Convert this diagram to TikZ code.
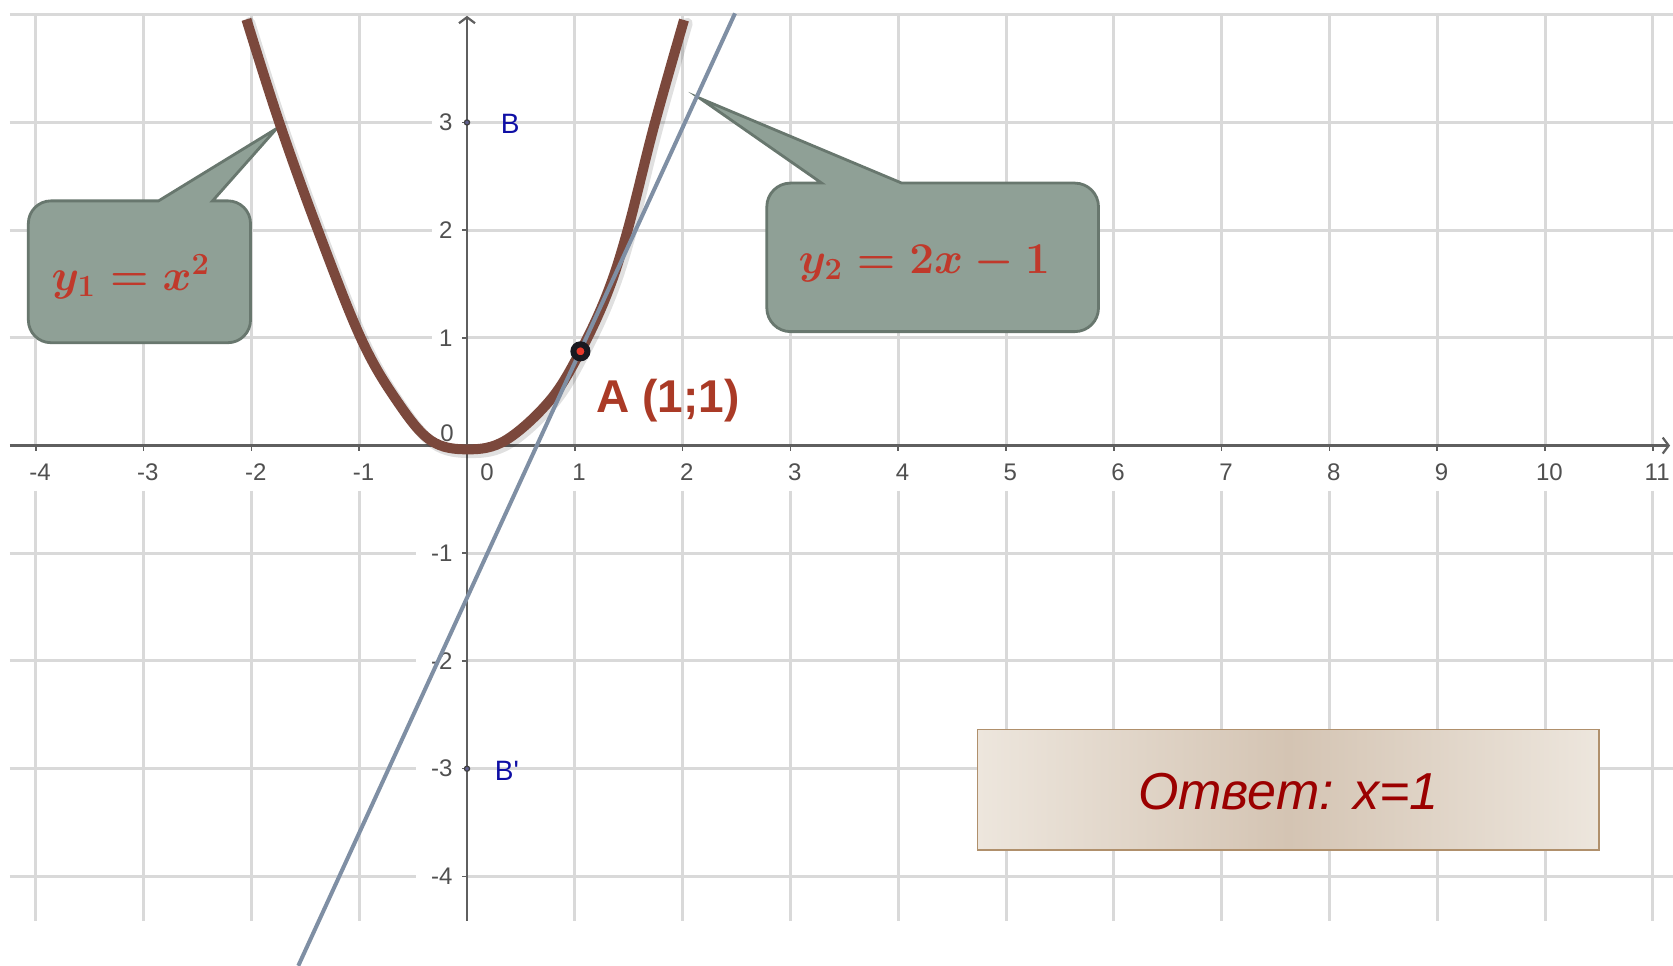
\RequirePackage{fix-cm}
\documentclass[tikz,border=0pt]{standalone}
\usepackage{fontspec}
\newfontfamily\arialf{Liberation Sans}
\usetikzlibrary{arrows.meta}
\definecolor{gridc}{RGB}{217,217,217}
\definecolor{axisc}{RGB}{95,95,95}
\definecolor{tickc}{RGB}{80,80,80}
\definecolor{curvec}{RGB}{123,72,60}
\definecolor{linec}{RGB}{127,143,164}
\definecolor{bubfill}{RGB}{143,160,150}
\definecolor{bubdraw}{RGB}{104,119,110}
\definecolor{mathred}{RGB}{192,57,43}
\definecolor{labred}{RGB}{170,58,38}
\definecolor{ansred}{RGB}{155,0,0}
\definecolor{ansedge}{RGB}{237,230,221}
\definecolor{ansmid}{RGB}{212,196,179}
\definecolor{ansdraw}{RGB}{176,144,108}
\definecolor{ptblue}{RGB}{15,15,165}
\definecolor{dotblack}{RGB}{25,25,32}
\definecolor{dotred}{RGB}{232,57,43}
\begin{document}
\begin{tikzpicture}[x=53.9pt,y=53.85pt,
  gridline/.style={gridc,line width=1.5pt},
  axisline/.style={axisc,line width=1.1pt},
  tickmark/.style={axisc,line width=0.8pt},
  ticklab/.style={font=\arialf\fontsize{12}{12}\selectfont,text=tickc,inner sep=0pt},
  ptlab/.style={font=\arialf\fontsize{14}{14}\selectfont,text=ptblue,inner sep=0pt},
  ptdot/.style={circle,draw=black!75,fill={rgb,255:red,95;green,95;blue,140},line width=0.6pt,minimum size=2.6pt,inner sep=0pt},
  bubble/.style={fill=bubfill,draw=bubdraw,line width=1.4pt,line join=miter},
  mathlab/.style={font=\fontsize{22}{26}\selectfont\boldmath,text=mathred,inner sep=0pt,anchor=base},
  barb/.style={-{Straight Barb[length=3pt,width=8pt]}}
]
\useasboundingbox (-4.332,-4.824) rectangle (11.187,4.137);
\fill[white] (-4.332,-4.824) rectangle (11.187,4.137);

% grid
\foreach \x in {-4,-3,-2,-1,1,2,3,4,5,6,7,8,9,10,11} {
  \draw[gridline] (\x,4) -- (\x,0);
  \draw[gridline] (\x,-0.42) -- (\x,-4.41);
}
\draw[gridline] (-4.24,4) -- (11.187,4);
\foreach \y in {1,2,3} {
  \draw[gridline] (-4.24,\y) -- (-0.325,\y);
  \draw[gridline] (0,\y) -- (11.187,\y);
}
\foreach \y in {-1,-2,-3,-4} {
  \draw[gridline] (-4.24,\y) -- (-0.475,\y);
  \draw[gridline] (0,\y) -- (11.187,\y);
}

% axes
\draw[axisline,barb] (-4.24,0) -- (11.16,0);
\draw[axisline,barb] (0,-4.41) -- (0,3.99);
\foreach \x in {-4,-3,-2,-1,0,1,2,3,4,5,6,7,8,9,10,11}
  \draw[tickmark] (\x,0) -- (\x,-0.055);
\foreach \y in {-4,-3,-2,-1,1,2,3}
  \draw[tickmark] (0,\y) -- (-0.05,\y);

% tick labels
\foreach \x [count=\i] in {-4,-3,-2,-1,1,2,3,4,5,6,7,8,9,10,11}
  \node[ticklab] (xl\i) at (\x+0.04,-0.245) {\x};
\node[ticklab] (xzero) at (0.186,-0.245) {0};
\foreach \y [count=\i] in {-4,-3,-2,-1,1,2,3}
  \node[ticklab,anchor=east] (yl\i) at (-0.13,\y) {\y};
\node[ticklab,anchor=east] (yzero) at (-0.12,0.11) {0};

% points B and B'
\node[ptdot] (B) at (0,3) {};
\node[ptlab] (Blab) at (0.40,2.99) {B};
\node[ptdot] (Bp) at (0,-3) {};
\node[ptlab] (Bplab) at (0.37,-3.02) {B'};

% callout bubbles
\draw[bubble] (-2.861,2.272) -- (-1.764,2.945) -- (-2.360,2.272)
  -- (-2.218,2.272) arc[start angle=90,end angle=0,radius=0.21]
  -- (-2.008,1.165) arc[start angle=0,end angle=-90,radius=0.21]
  -- (-3.859,0.955) arc[start angle=270,end angle=180,radius=0.21]
  -- (-4.069,2.062) arc[start angle=180,end angle=90,radius=0.21] -- cycle;
\draw[bubble] (3.290,2.437) -- (2.161,3.224) -- (4.033,2.437)
  -- (5.638,2.437) arc[start angle=90,end angle=0,radius=0.22]
  -- (5.858,1.278) arc[start angle=0,end angle=-90,radius=0.22]
  -- (3.001,1.058) arc[start angle=270,end angle=180,radius=0.22]
  -- (2.781,2.217) arc[start angle=180,end angle=90,radius=0.22] -- cycle;
\node[mathlab] (t1) at (-3.118,1.444) {$y_1 = x^2$};
\node[mathlab] (t2) at (4.241,1.599) {$y_2 = 2x - 1$};

% parabola (with soft shadow)
\draw[black,opacity=0.12,line width=5.5pt,line cap=round,shift={(0.03,-0.03)}]
  plot[smooth,tension=0.6] coordinates {(-2.046,3.957) (-1.738,2.99) (-1.383,2.0) (-0.986,1.0) (-0.66,0.43) (-0.34,0.05) (0.01,-0.035) (0.36,0.05) (0.77,0.42) (1.052,0.875) (1.30,1.41) (1.49,2.0) (1.74,2.985) (2.013,3.951)};
\draw[curvec,line width=5pt]
  plot[smooth,tension=0.6] coordinates {(-2.046,3.957) (-1.738,2.99) (-1.383,2.0) (-0.986,1.0) (-0.66,0.43) (-0.34,0.05) (0.01,-0.035) (0.36,0.05) (0.77,0.42) (1.052,0.875) (1.30,1.41) (1.49,2.0) (1.74,2.985) (2.013,3.951)};

% line
\draw[linec,line width=2pt] (-1.565,-4.83) -- (2.486,4.013);

% point A
\node[circle,draw=dotblack,fill=dotred,line width=3pt,minimum size=7pt,inner sep=0pt] (A) at (1.052,0.875) {};
\node[font=\arialf\bfseries\fontsize{23}{23}\selectfont,text=labred,inner sep=0pt,anchor=base] (Alab) at (1.865,0.308) {A (1;1)};

% answer box
\node[draw=ansdraw,line width=0.8pt,left color=ansedge,right color=ansedge,middle color=ansmid,
      minimum width=310.7pt,minimum height=60.3pt,inner sep=0pt] (ansbox) at (7.619,-3.195) {};
\node[font=\arialf\itshape\fontsize{26}{26}\selectfont,text=ansred,inner sep=0pt,anchor=base] (ans) at (7.619,-3.375) {Ответ: x=1};
\end{tikzpicture}
\end{document}
